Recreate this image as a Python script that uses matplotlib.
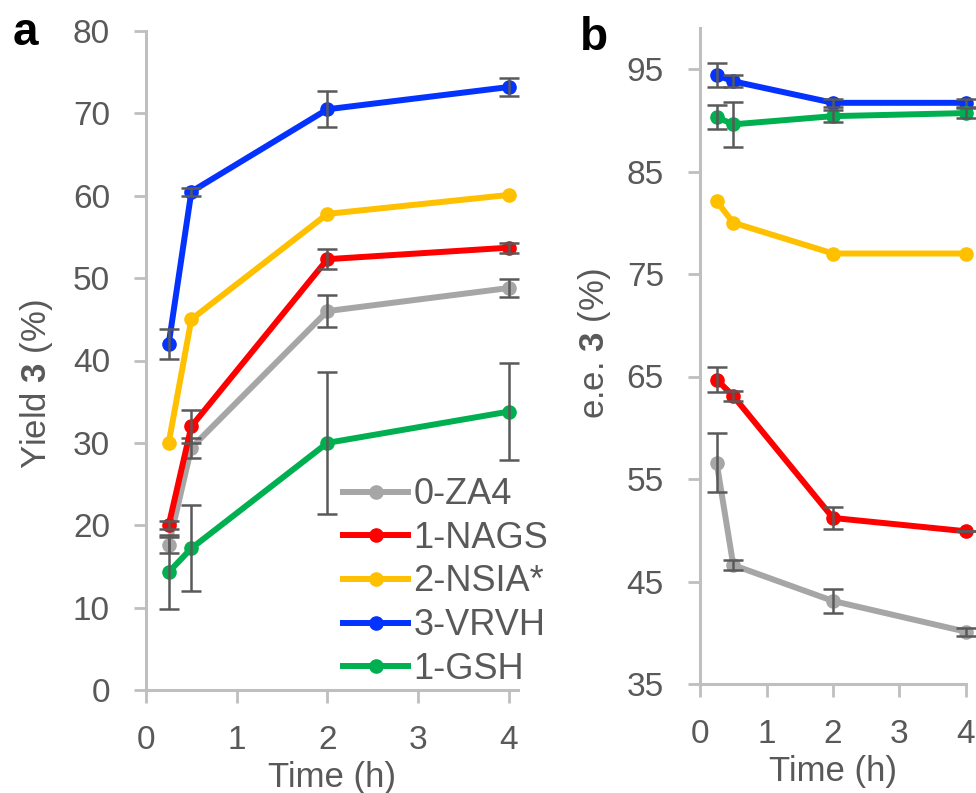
import matplotlib
matplotlib.use('Agg')
import matplotlib.pyplot as plt

plt.rcParams['font.family'] = ['Liberation Sans', 'DejaVu Sans']
plt.rcParams['mathtext.fontset'] = 'custom'
plt.rcParams['mathtext.rm'] = 'Liberation Sans'
plt.rcParams['mathtext.bf'] = 'Liberation Sans:bold'

# data
times = [0.25, 0.5, 2, 4]
names = ['0-ZA4', '1-NAGS', '2-NSIA*', '3-VRVH', '1-GSH']
colors = ['#A6A6A6', '#FF0000', '#FFC000', '#0433FF', '#00B050']

yield_vals = [
    [17.6, 29.4, 46.0, 48.8],
    [20.0, 32.0, 52.3, 53.7],
    [30.0, 45.0, 57.8, 60.1],
    [42.0, 60.5, 70.5, 73.2],
    [14.3, 17.2, 30.0, 33.8],
]
yield_err = [
    [1.0, 1.2, 1.9, 1.1],
    [0.5, 2.0, 1.2, 0.6],
    [0.0, 0.0, 0.0, 0.0],
    [1.8, 0.5, 2.2, 1.1],
    [4.5, 5.2, 8.6, 5.9],
]
ee_vals = [
    [56.6, 46.6, 43.1, 40.1],
    [64.7, 63.1, 51.2, 49.9],
    [82.1, 80.0, 77.0, 77.0],
    [94.4, 93.8, 91.7, 91.7],
    [90.3, 89.6, 90.4, 90.7],
]
ee_err = [
    [2.9, 0.5, 1.2, 0.4],
    [1.2, 0.5, 1.1, 0.0],
    [0.0, 0.0, 0.0, 0.0],
    [1.2, 0.6, 0.4, 0.4],
    [1.2, 2.2, 0.6, 0.5],
]

TXT = '#595959'
AXC = '#BFBFBF'

fig = plt.figure(figsize=(9.76, 7.93), dpi=100)
axA = fig.add_axes([146/976, 103/793, 372/976, 659/793])
axB = fig.add_axes([700/976, 109/793, 266/976, 656/793])


def draw(ax, vals, errs):
    lines = []
    for i in range(len(names)):
        ln, = ax.plot(times, vals[i], '-o', color=colors[i], lw=4.3, ms=9.5,
                      label=names[i], zorder=2 + i, clip_on=False)
        if any(e > 0 for e in errs[i]):
            ax.errorbar(times, vals[i], yerr=errs[i], fmt='none', ecolor=TXT,
                        elinewidth=1.8, capsize=7, capthick=1.8, zorder=2 + i + 0.5,
                        clip_on=False)
        lines.append(ln)
    return lines


def style(ax):
    for s in ['top', 'right']:
        ax.spines[s].set_visible(False)
    for s in ['left', 'bottom']:
        ax.spines[s].set_color(AXC)
        ax.spines[s].set_linewidth(2.2)
    ax.tick_params(direction='out', length=9, width=2, color=AXC)
    ax.tick_params(axis='y', labelsize=24, labelcolor=TXT, pad=17)
    ax.tick_params(axis='x', labelsize=24, labelcolor=TXT, pad=16)
    ax.set_xticks([0, 1, 2, 3, 4])
    ax.set_xlabel('Time (h)', fontsize=25, color=TXT, labelpad=4)


lines = draw(axA, yield_vals, yield_err)
style(axA)
axA.set_xlim(0, 4.1)
axA.set_ylim(0, 80)
axA.set_yticks(range(0, 81, 10))
axA.set_ylabel(r'Yield $\mathbf{3}$ (%)', fontsize=25, color=TXT)
axA.yaxis.set_label_coords(-0.245, 0.464)
leg = axA.legend(lines, names, loc='upper left', bbox_to_anchor=(0.53, 0.323),
                 frameon=False, fontsize=26, handlelength=1.8, handletextpad=0.14,
                 labelspacing=0.24, numpoints=1, borderaxespad=0, borderpad=0)
for t in leg.get_texts():
    t.set_color(TXT)

draw(axB, ee_vals, ee_err)
style(axB)
axB.set_xlim(0, 4)
axB.set_ylim(35, 99)
axB.set_yticks(range(35, 96, 10))
axB.set_ylabel(r'e.e. $\mathbf{3}$ (%)', fontsize=25, color=TXT)
axB.yaxis.set_label_coords(-0.327, 0.518)

fig.text(13/976, 1 - 45/793, 'a', fontsize=33, fontweight='bold', color='black')
fig.text(580/976, 1 - 50/793, 'b', fontsize=33, fontweight='bold', color='black')

fig.savefig('out.png', dpi=100)
